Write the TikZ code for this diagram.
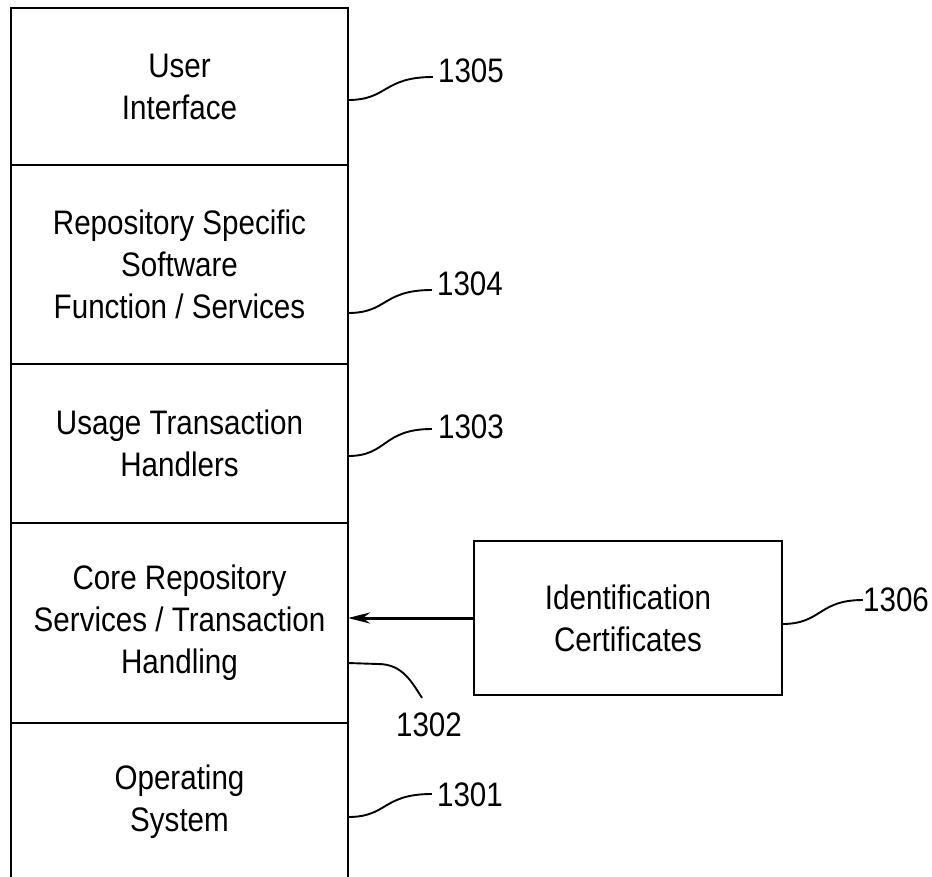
\documentclass[tikz,border=0pt]{standalone}
\usepackage{fontspec}
\setmainfont{Liberation Sans}[FakeStretch=0.87]
\usetikzlibrary{arrows.meta,calc}
\newcommand\figfont{\fontsize{34pt}{42pt}\selectfont}
\begin{document}
\begin{tikzpicture}[x=1pt,y=-1pt,
  layer/.style={draw, line width=2.8pt, outer sep=0pt, minimum width=337pt, inner sep=0pt, align=center, font=\figfont},
  plain/.style={inner sep=0pt, align=center, font=\figfont},
  refnum/.style={inner sep=0pt, font=\figfont},
  leader/.style={line width=1.9pt},
  conn/.style={line width=3pt, -{Stealth[length=22pt,width=11pt]}}]
\useasboundingbox (0,0) rectangle (932,876);
\clip (0,0) rectangle (932,876);
% stack
\node[layer, minimum height=157pt] (ui) at (179.5,86.5) {User\\Interface};
\node[layer, minimum height=199pt] (rss) at (179.5,264.5) {Repository Specific\\Software\\Function / Services};
\node[layer, minimum height=159pt] (uth) at (179.5,443.5) {Usage Transaction\\Handlers};
\node[layer, minimum height=200pt] (core) at (179.5,623) {Core Repository\\Services / Transaction\\Handling};
\node[plain] (os) at (179.5,802) {Operating\\System};
\draw[line width=2.8pt] (core.south west) -- ++(0,170);
\draw[line width=2.8pt] (core.south east) -- ++(0,170);
% identification certificates
\node[draw, line width=2.8pt, outer sep=0pt, minimum width=308pt, minimum height=154pt, inner sep=0pt, align=center, font=\figfont] (id) at (628,618) {Identification\\Certificates};
\draw[conn] (id.west) -- (id.west -| core.east);
% reference numerals
\node[refnum] (n1305) at (471,71) {1305};
\node[refnum] (n1304) at (470,284) {1304};
\node[refnum] (n1303) at (471,427) {1303};
\node[refnum] (n1302) at (429,725) {1302};
\node[refnum] (n1301) at (470,795) {1301};
\node[refnum] (n1306) at (896,600) {1306};
% leaders
\coordinate (s1305) at (ui.east |- 0,100);
\coordinate (s1304) at (rss.east |- 0,313);
\coordinate (s1303) at (uth.east |- 0,456);
\coordinate (s1302) at (core.east |- 0,663);
\coordinate (s1301) at (core.east |- 0,817);
\coordinate (s1306) at (id.east |- 0,624);
\draw[leader] (s1305) .. controls +(40,0) and +(-50,0) .. ($(n1305.west)+(-5,6)$);
\draw[leader] (s1304) .. controls +(40,0) and +(-50,0) .. ($(n1304.west)+(-5,6)$);
\draw[leader] (s1303) .. controls +(40,0) and +(-50,0) .. ($(n1303.west)+(-6,2)$);
\draw[leader] (s1301) .. controls +(40,0) and +(-50,0) .. ($(n1301.west)+(-5,-1)$);
\draw[leader] (s1302) -- ++(30,1) .. controls +(25,0) and +(-10,-15) .. ($(n1302.north)+(-7,-15)$);
\draw[leader] (s1306) .. controls +(40,0) and +(-45,0) .. (n1306.west);
\end{tikzpicture}
\end{document}
